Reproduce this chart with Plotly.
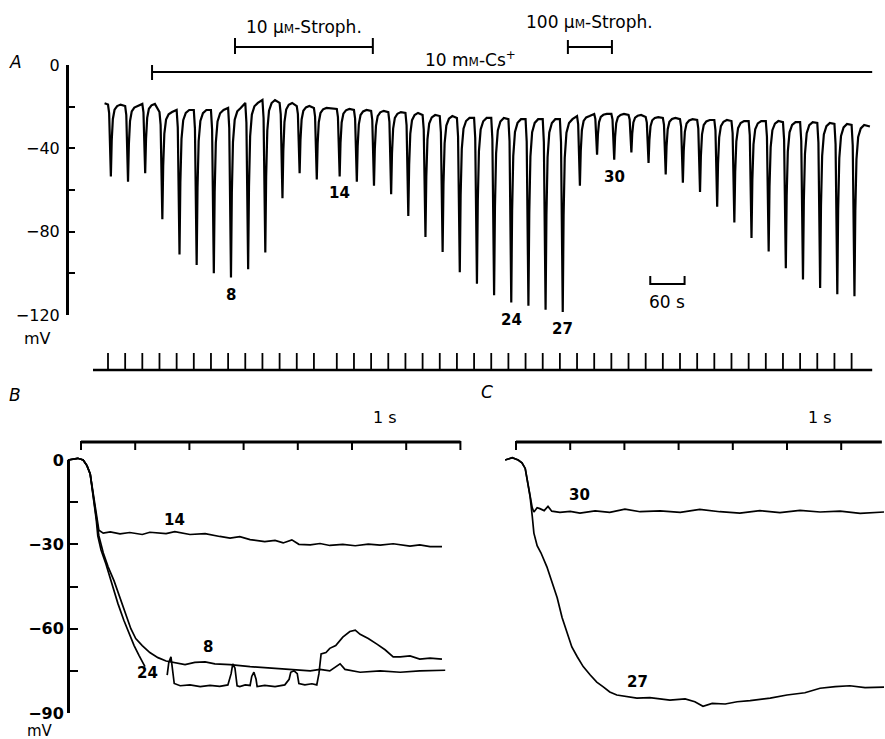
import plotly.graph_objects as go

W, H = 885, 739

# ---------------- Panel A: slow chart record ----------------
# stimulus times (s) of the hyperpolarizing pulses
STIM_T = [0, 30, 60, 90, 120, 150, 180, 210, 240, 270, 300, 330, 360,
          400, 430, 460, 490, 520, 550, 580, 610, 640, 670, 700, 730, 760,
          790, 820, 850, 880, 910, 940, 970, 1000, 1030, 1060, 1090, 1120,
          1150, 1180, 1210, 1240, 1270, 1300]
# holding potential just before each pulse (mV)
BASE_MV = [-19.0, -19.7, -18.7, -22.6, -21.6, -21.6, -21.6, -20.6, -18.2, -16.8,
           -18.2, -19.7, -20.6, -21.1, -21.6, -22.0, -22.6, -23.0, -24.0, -24.5,
           -25.4, -25.4, -25.4, -26.0, -26.0, -26.0, -26.0, -24.5, -23.5, -23.5,
           -24.0, -25.0, -25.4, -26.0, -26.4, -26.4, -26.9, -26.9, -26.9, -27.4,
           -27.4, -27.8, -28.3, -28.8]
# most negative potential reached during each pulse (mV)
PEAK_MV = [-53.5, -56.0, -52.0, -74.0, -91.0, -96.0, -100.0, -102.0, -98.0, -90.0,
           -64.0, -52.0, -55.0, -53.5, -56.0, -58.0, -62.0, -72.5, -82.6, -89.8,
           -99.5, -105.0, -110.5, -114.0, -115.5, -117.5, -118.5, -58.0, -43.0, -45.5,
           -42.0, -47.0, -52.6, -56.5, -61.0, -68.0, -75.6, -83.0, -89.5, -97.6,
           -103.0, -107.0, -110.0, -111.0]
A_START = (-6, -18.4)
A_END = (1332, -29.5)
A_LABELLED = [8, 14, 24, 27, 30]          # pulse numbers marked on the record

CS_ON_OFF = (77, 1336)                   # 10 mM-Cs+ application (s)
STROPH10_ON_OFF = (222, 463)             # 10 uM strophanthidin (s)
STROPH100_ON_OFF = (804, 881)            # 100 uM strophanthidin (s)
A_SCALE_S = (948, 1008)                  # 60 s calibration

A_YTICKS = [0, -40, -80, -120]
A_YTICKTEXT = ['0', '\u221240', '\u221280', '\u2212120']
A_YMINOR_STEP = 20

# ---------------- Panel B: fast records (s, mV) ----------------
B14_T = [-0.24, -0.06, 0.04, 0.11, 0.17, 0.22, 0.26, 0.30, 0.33, 0.41, 0.54, 0.72, 0.90,
         1.13, 1.27, 1.57, 1.73, 2.01, 2.29, 2.56, 2.75, 2.93, 3.12, 3.39, 3.58, 3.73,
         3.89, 4.02, 4.23, 4.41, 4.59, 4.83, 5.06, 5.30, 5.52, 5.76, 6.07, 6.25, 6.44, 6.66]
B14_MV = [0, 0.6, 0, -2, -5, -11, -17, -22, -25, -26, -25.6, -26.3, -25.8,
          -26.5, -25.7, -26.2, -25.5, -26.5, -26.2, -27.2, -27.8, -27.3, -28.3, -29.0, -28.6, -29.5,
          -28.4, -30.0, -30.2, -29.7, -30.4, -30.0, -30.5, -29.9, -30.3, -29.8, -30.6, -30.2, -30.8, -30.8]

B8_T = [-0.24, -0.06, 0.04, 0.11, 0.17, 0.22, 0.28, 0.33, 0.41, 0.50, 0.61, 0.72, 0.83,
        0.92, 1.01, 1.13, 1.27, 1.42, 1.57, 1.73, 1.92, 2.10, 2.29, 2.47, 2.75, 3.12,
        3.49, 3.86, 4.23, 4.41, 4.59, 4.78, 4.87, 5.15, 5.52, 5.89, 6.25, 6.72]
B8_MV = [0, 0.6, 0, -2, -5, -12, -20, -27, -33, -38, -43, -49, -55,
         -60, -63.5, -66, -68.5, -70.3, -71.5, -72, -72.8, -72, -71.8, -72.5, -72.8, -73.5,
         -74, -74.5, -75, -74.5, -75, -72.5, -74.5, -75.5, -75, -75.5, -75, -74.8]

B24_T = [-0.24, -0.06, 0.04, 0.11, 0.17, 0.22, 0.28, 0.31, 0.37, 0.46, 0.57, 0.68, 0.79,
         0.89, 0.98, 1.07, 1.18, None,
         1.59, 1.62, 1.66, 1.68, 1.72, 1.83, 2.01, 2.20, 2.38, 2.56, 2.71, 2.77, 2.80,
         2.84, 2.88, 2.93, 3.03, 3.12, 3.15, 3.19, 3.23, 3.25, 3.39, 3.58, 3.76, 3.84,
         3.87, 3.93, 3.99, 4.02, 4.13, 4.26, 4.35, 4.39, 4.43, 4.52, 4.59, 4.70, 4.83,
         4.96, 5.06, 5.15, 5.30, 5.46, 5.61, 5.76, 5.89, 6.07, 6.25, 6.44, 6.66]
B24_MV = [0, 0.6, 0, -2, -5, -12, -21, -27, -32, -37, -44, -51, -57,
          -62, -66, -69.5, -73.5, None,
          -76.5, -72, -70, -74, -79.5, -80.3, -80.0, -80.6, -80.2, -80.5, -80.0, -76, -72.5,
          -74, -80.3, -80.6, -80.0, -80.2, -77, -75.5, -78, -80.6, -80.2, -80.6, -80.0, -78,
          -75.5, -75, -76, -79.5, -80.0, -79.6, -80.0, -76, -69, -68.5, -67, -66, -63,
          -61, -60.5, -62, -63.5, -65.5, -67.5, -70, -70, -69.7, -70.8, -70.5, -70.8]

# ---------------- Panel C: fast records (s, mV) ----------------
C30_T = [-0.20, -0.07, 0.04, 0.11, 0.17, 0.22, 0.26, 0.30, 0.33, 0.39, 0.44, 0.52, 0.59,
         0.66, 0.81, 1.00, 1.18, 1.46, 1.73, 2.01, 2.29, 2.66, 3.03, 3.39, 3.76, 4.13,
         4.50, 4.87, 5.24, 5.61, 5.98, 6.35, 6.79]
C30_MV = [0, 0.8, 0, -1, -3, -8, -13, -17, -18.5, -17, -17.3, -18, -16.5,
          -18.2, -18.6, -18.3, -18.9, -18.1, -18.6, -17.5, -18.4, -18.1, -18.6, -17.6, -18.4, -18.9,
          -18.0, -18.7, -17.9, -18.5, -18.2, -19.0, -18.5]

C27_T = [-0.20, -0.07, 0.04, 0.11, 0.17, 0.22, 0.26, 0.30, 0.33, 0.39, 0.46, 0.57, 0.66,
         0.76, 0.85, 0.94, 1.03, 1.13, 1.24, 1.37, 1.49, 1.61, 1.73, 1.86, 2.05, 2.23,
         2.47, 2.66, 2.84, 3.12, 3.30, 3.45, 3.62, 3.86, 4.08, 4.32, 4.69, 5.00, 5.33,
         5.61, 5.89, 6.16, 6.44, 6.79]
C27_MV = [0, 0.8, 0, -1, -3, -8, -13, -20, -26, -30.5, -33, -38, -43.5,
          -49, -56, -61.5, -66.5, -70, -73.5, -76.5, -79, -80.7, -82.5, -83.6, -84.2, -84.7,
          -84.5, -85, -85.4, -85, -86, -87.6, -86.6, -86.8, -86, -85.6, -84.7, -83.6, -82.8,
          -81.2, -80.6, -80.3, -81, -80.8]

BC_YTICKS = [0, -30, -60, -90]
BC_YTICKTEXT = ['0', '\u221230', '\u221260', '\u221290']
BC_YMINOR_STEP = 15
B_TIME_TICKS = [0, 1, 2, 3, 4, 5, 6, 7]
C_TIME_TICKS = [0, 1, 2, 3, 4, 5, 6]
C_TIME_END = 6.75

# ---------------- geometry of the page ----------------
A_T0_PX, A_PX_PER_S = 108.0, 0.572
A_MV0_PX, A_PX_PER_MV = 65.0, 250.0 / 120.0
B_T0_PX, C_T0_PX, BC_PX_PER_S = 81.0, 516.0, 54.2
BC_MV0_PX, BC_PX_PER_MV = 460.0, 253.0 / 90.0

FONT = 'DejaVu Sans'
INK = 'black'


def px(x):
    return x / W


def py(y):
    return 1 - y / H


# waveform of one hyperpolarizing pulse on the slow record
PULSE_DT = [0, 2, 3.5, 5, 6.5, 8.5, 11.5, 16, 22]
PULSE_FRAC = [0, 0.12, 0.6, 1.0, 0.5, 0.2, 0.07, 0.02, 0]

a_t, a_v = [A_START[0]], [A_START[1]]
for t, b, d in zip(STIM_T, BASE_MV, PEAK_MV):
    for dt, f in zip(PULSE_DT, PULSE_FRAC):
        a_t.append(t + dt)
        a_v.append(b + f * (d - b))
a_t.append(A_END[0])
a_v.append(A_END[1])

fig = go.Figure()
fig.add_trace(go.Scatter(x=a_t, y=a_v, mode='lines', xaxis='x', yaxis='y',
                         line=dict(color=INK, width=2.2), hoverinfo='skip'))
# empty traces that carry the two visible voltage axes
fig.add_trace(go.Scatter(x=[], y=[], xaxis='x', yaxis='y2', hoverinfo='skip'))
fig.add_trace(go.Scatter(x=[], y=[], xaxis='x2', yaxis='y4', hoverinfo='skip'))

for tx, vy in [(B14_T, B14_MV), (B8_T, B8_MV), (B24_T, B24_MV)]:
    fig.add_trace(go.Scatter(x=tx, y=vy, mode='lines', xaxis='x2', yaxis='y3',
                             connectgaps=False, line=dict(color=INK, width=1.7),
                             hoverinfo='skip'))
for tx, vy in [(C30_T, C30_MV), (C27_T, C27_MV)]:
    fig.add_trace(go.Scatter(x=tx, y=vy, mode='lines', xaxis='x3', yaxis='y3',
                             line=dict(color=INK, width=1.7), hoverinfo='skip'))

shapes = []


def seg(xref, x0, y0, x1, y1, w):
    shapes.append(dict(type='line', xref=xref, yref='paper', x0=x0, x1=x1,
                       y0=py(y0), y1=py(y1), line=dict(color=INK, width=w)))


# stimulus marker row
seg('x', (93 - A_T0_PX) / A_PX_PER_S, 370, CS_ON_OFF[1], 370, 2.5)
for t in STIM_T:
    seg('x', t, 353, t, 370, 1.8)

# drug application bars
seg('x', CS_ON_OFF[0], 72, CS_ON_OFF[1], 72, 2)
seg('x', CS_ON_OFF[0], 65, CS_ON_OFF[0], 80, 2)
for (t0, t1), cap_top in [(STROPH10_ON_OFF, 38), (STROPH100_ON_OFF, 40)]:
    seg('x', t0, 47, t1, 47, 2.2)
    seg('x', t0, cap_top, t0, 54, 2)
    seg('x', t1, cap_top, t1, 54, 2)

# 60 s calibration
seg('x', A_SCALE_S[0], 284, A_SCALE_S[1], 284, 2.2)
seg('x', A_SCALE_S[0], 276, A_SCALE_S[0], 285, 2)
seg('x', A_SCALE_S[1], 276, A_SCALE_S[1], 285, 2)

# 1 s time bars of B and C
seg('x2', B_TIME_TICKS[0], 442, B_TIME_TICKS[-1], 442, 3)
for t in B_TIME_TICKS:
    seg('x2', t, 441, t, 450, 2)
seg('x3', C_TIME_TICKS[0], 442, C_TIME_END, 442, 3)
for t in C_TIME_TICKS:
    seg('x3', t, 441, t, 450, 2)

ann = []


def text(s, x, y, size=16, bold=False, xref='paper', yref='paper', **kw):
    ann.append(dict(text=s, x=x, y=y, xref=xref, yref=yref, showarrow=False,
                    xanchor=kw.pop('xanchor', 'center'), yanchor=kw.pop('yanchor', 'middle'),
                    font=dict(family=FONT, size=size, color=INK,
                              weight='bold' if bold else 'normal'), **kw))


SMALL_M = '<span style="font-size:12px">M</span>'
text('<i>A</i>', px(15), py(62), 17)
text('<i>B</i>', px(15), py(395), 17)
text('<i>C</i>', px(487), py(392), 17)
text('10 \u00b5' + SMALL_M + '-Stroph.', sum(STROPH10_ON_OFF) / 2, py(27), 17, xref='x')
text('100 \u00b5' + SMALL_M + '-Stroph.', sum(STROPH100_ON_OFF) / 2, py(22), 17, xref='x')
text('10 m' + SMALL_M + '-Cs<sup>+</sup>', 633, py(59), 17, xref='x')
text('60 s', sum(A_SCALE_S) / 2, py(302), 17, xref='x')
text('mV', px(37), py(338), 16)
text('mV', px(40), py(731), 15)
text('1 s', 5.6, py(417), 16, xref='x2')
text('1 s', 5.6, py(417), 16, xref='x3')

for k in A_LABELLED:
    text(str(k), STIM_T[k - 1] + 5, PEAK_MV[k - 1], 15, True, xref='x', yref='y', yshift=-17)

text('14', 1.73, -21.3, 15, True, xref='x2', yref='y3')
text('8', 2.34, -66.5, 15, True, xref='x2', yref='y3')
text('24', 1.22, -75.8, 15, True, xref='x2', yref='y3')
text('30', 1.18, -12.5, 15, True, xref='x3', yref='y3')
text('27', 2.25, -79.0, 15, True, xref='x3', yref='y3')

hidden = dict(visible=False, domain=[0, 1], fixedrange=True, showgrid=False, zeroline=False)
vis_y = dict(anchor='free', showline=True, linecolor=INK, ticks='inside', tickcolor=INK,
             tickwidth=2, showgrid=False, zeroline=False, automargin=False, fixedrange=True)

fig.update_layout(
    width=W, height=H, margin=dict(l=0, r=0, t=0, b=0), template='none',
    paper_bgcolor='white', plot_bgcolor='rgba(0,0,0,0)', showlegend=False,
    hovermode=False, shapes=shapes, annotations=ann,
    xaxis=dict(hidden, anchor='y',
               range=[-A_T0_PX / A_PX_PER_S, (W - A_T0_PX) / A_PX_PER_S]),
    yaxis=dict(hidden, anchor='x',
               range=[-(H - A_MV0_PX) / A_PX_PER_MV, A_MV0_PX / A_PX_PER_MV]),
    yaxis2=dict(vis_y, domain=[py(315), py(65)], range=[-120, 0], position=px(67),
                linewidth=3, ticklen=6, tickmode='array',
                tickvals=A_YTICKS, ticktext=A_YTICKTEXT,
                minor=dict(tickmode='linear', tick0=0, dtick=A_YMINOR_STEP, ticks='inside',
                           ticklen=6, tickwidth=2, tickcolor=INK, showgrid=False),
                tickfont=dict(family=FONT, size=16, color=INK), ticklabelstandoff=3),
    xaxis2=dict(hidden, anchor='y3',
                range=[-B_T0_PX / BC_PX_PER_S, (W - B_T0_PX) / BC_PX_PER_S]),
    xaxis3=dict(hidden, anchor='y3',
                range=[-C_T0_PX / BC_PX_PER_S, (W - C_T0_PX) / BC_PX_PER_S]),
    yaxis3=dict(hidden, anchor='x2',
                range=[-(H - BC_MV0_PX) / BC_PX_PER_MV, BC_MV0_PX / BC_PX_PER_MV]),
    yaxis4=dict(vis_y, domain=[py(713), py(460)], range=[-90, 0], position=px(68),
                linewidth=3, ticklen=8, tickmode='array',
                tickvals=BC_YTICKS, ticktext=BC_YTICKTEXT,
                minor=dict(tickmode='linear', tick0=0, dtick=BC_YMINOR_STEP, ticks='inside',
                           ticklen=8, tickwidth=2, tickcolor=INK, showgrid=False),
                tickfont=dict(family=FONT, size=16, color=INK, weight='bold'),
                ticklabelstandoff=0),
)

fig.write_html('out.html')
